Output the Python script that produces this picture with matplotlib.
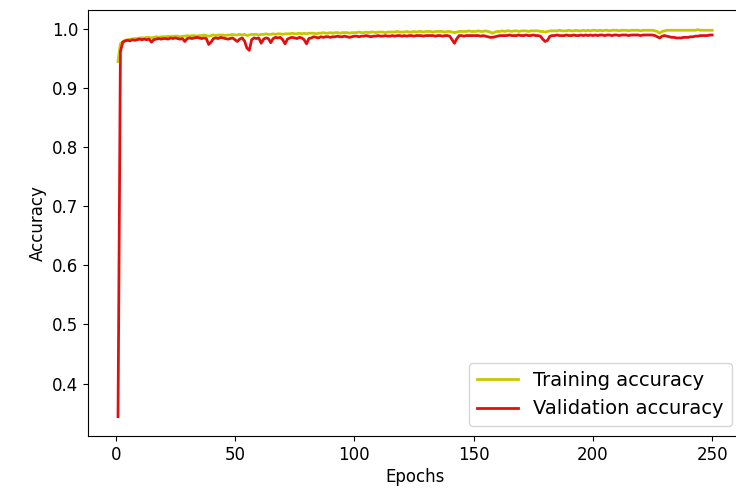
import matplotlib.pyplot as plt
import numpy as np

epochs = np.arange(1, 251)

train_acc = [
    0.945, 0.975, 0.979, 0.981, 0.982, 0.983, 0.983, 0.984, 0.984, 0.985,
    0.985, 0.985, 0.986, 0.986, 0.985, 0.986, 0.987, 0.986, 0.987, 0.987,
    0.987, 0.988, 0.987, 0.988, 0.988, 0.988, 0.987, 0.988, 0.988, 0.989,
    0.988, 0.989, 0.989, 0.988, 0.989, 0.989, 0.990, 0.989, 0.988, 0.989,
    0.990, 0.989, 0.990, 0.990, 0.990, 0.989, 0.990, 0.990, 0.991, 0.990,
    0.990, 0.991, 0.990, 0.991, 0.989, 0.990, 0.991, 0.991, 0.991, 0.990,
    0.991, 0.991, 0.992, 0.991, 0.991, 0.992, 0.991, 0.992, 0.992, 0.991,
    0.992, 0.992, 0.992, 0.993, 0.992, 0.992, 0.993, 0.992, 0.993, 0.992,
    0.993, 0.993, 0.993, 0.992, 0.993, 0.993, 0.994, 0.993, 0.993, 0.994,
    0.993, 0.994, 0.994, 0.993, 0.994, 0.994, 0.994, 0.993, 0.994, 0.994,
    0.994, 0.995, 0.994, 0.994, 0.995, 0.994, 0.995, 0.995, 0.994, 0.995,
    0.995, 0.995, 0.994, 0.995, 0.995, 0.995, 0.995, 0.996, 0.995, 0.995,
    0.995, 0.996, 0.995, 0.995, 0.996, 0.995, 0.996, 0.996, 0.995, 0.996,
    0.996, 0.996, 0.995, 0.996, 0.996, 0.996, 0.996, 0.995, 0.996, 0.996,
    0.995, 0.994, 0.995, 0.996, 0.996, 0.996, 0.996, 0.997, 0.996, 0.996,
    0.996, 0.997, 0.996, 0.996, 0.997, 0.996, 0.995, 0.993, 0.995, 0.996,
    0.996, 0.997, 0.996, 0.997, 0.997, 0.996, 0.997, 0.997, 0.996, 0.997,
    0.997, 0.997, 0.996, 0.997, 0.997, 0.997, 0.997, 0.996, 0.996, 0.995,
    0.996, 0.997, 0.997, 0.997, 0.997, 0.998, 0.997, 0.997, 0.997, 0.998,
    0.997, 0.997, 0.998, 0.997, 0.997, 0.998, 0.997, 0.998, 0.997, 0.998,
    0.998, 0.997, 0.998, 0.997, 0.998, 0.998, 0.997, 0.998, 0.998, 0.998,
    0.997, 0.998, 0.998, 0.998, 0.997, 0.998, 0.998, 0.998, 0.998, 0.997,
    0.998, 0.998, 0.998, 0.998, 0.998, 0.997, 0.996, 0.993, 0.996, 0.997,
    0.998, 0.998, 0.998, 0.998, 0.998, 0.998, 0.998, 0.998, 0.998, 0.998,
    0.998, 0.998, 0.998, 0.999, 0.998, 0.998, 0.998, 0.998, 0.998, 0.998,
]

val_acc = [
    0.344, 0.962, 0.978, 0.980, 0.981, 0.980, 0.982, 0.981, 0.982, 0.983,
    0.982, 0.983, 0.982, 0.983, 0.978, 0.982, 0.983, 0.984, 0.983, 0.984,
    0.984, 0.983, 0.985, 0.984, 0.985, 0.984, 0.983, 0.984, 0.979, 0.984,
    0.985, 0.984, 0.985, 0.986, 0.985, 0.984, 0.985, 0.984, 0.974, 0.978,
    0.984, 0.985, 0.984, 0.986, 0.985, 0.984, 0.983, 0.984, 0.985, 0.982,
    0.979, 0.983, 0.985, 0.980, 0.968, 0.964, 0.982, 0.985, 0.984, 0.985,
    0.976, 0.983, 0.985, 0.984, 0.977, 0.984, 0.986, 0.985, 0.986, 0.982,
    0.975, 0.983, 0.985, 0.986, 0.985, 0.984, 0.986, 0.985, 0.982, 0.975,
    0.984, 0.985, 0.987, 0.986, 0.985, 0.987, 0.986, 0.987, 0.987, 0.986,
    0.987, 0.987, 0.988, 0.987, 0.987, 0.988, 0.987, 0.986, 0.987, 0.988,
    0.988, 0.987, 0.988, 0.988, 0.989, 0.988, 0.987, 0.988, 0.988, 0.989,
    0.988, 0.988, 0.989, 0.988, 0.988, 0.989, 0.988, 0.989, 0.989, 0.988,
    0.989, 0.988, 0.989, 0.989, 0.988, 0.989, 0.989, 0.989, 0.988, 0.989,
    0.989, 0.989, 0.989, 0.988, 0.989, 0.989, 0.988, 0.989, 0.989, 0.988,
    0.982, 0.976, 0.984, 0.989, 0.989, 0.988, 0.989, 0.989, 0.989, 0.989,
    0.989, 0.989, 0.988, 0.989, 0.988, 0.987, 0.986, 0.986, 0.987, 0.988,
    0.989, 0.989, 0.989, 0.989, 0.990, 0.989, 0.989, 0.989, 0.990, 0.989,
    0.989, 0.990, 0.989, 0.989, 0.990, 0.989, 0.989, 0.988, 0.983, 0.979,
    0.981, 0.988, 0.989, 0.989, 0.990, 0.989, 0.989, 0.989, 0.990, 0.989,
    0.989, 0.990, 0.989, 0.989, 0.990, 0.989, 0.990, 0.989, 0.990, 0.989,
    0.990, 0.989, 0.990, 0.990, 0.989, 0.990, 0.990, 0.989, 0.990, 0.990,
    0.989, 0.990, 0.990, 0.990, 0.989, 0.990, 0.990, 0.990, 0.990, 0.989,
    0.990, 0.990, 0.990, 0.990, 0.990, 0.989, 0.987, 0.985, 0.988, 0.989,
    0.988, 0.987, 0.986, 0.986, 0.985, 0.985, 0.985, 0.986, 0.986, 0.986,
    0.987, 0.987, 0.988, 0.988, 0.989, 0.989, 0.989, 0.989, 0.990, 0.990,
]

plt.rcParams['font.size'] = 12

fig = plt.figure(figsize=(7.36, 4.99), dpi=100)
# the source image is cropped on the right, so the axes run past the edge
ax = fig.add_axes([0.12, 0.1263, 0.888, 0.853])

ax.plot(epochs, train_acc, color='#c8c800', lw=2, label='Training accuracy')
ax.plot(epochs, val_acc, color='#e01010', lw=2, label='Validation accuracy')

ax.set_xlabel('Epochs', fontsize=12, labelpad=3)
ax.set_ylabel('Accuracy', fontsize=12)
ax.legend(loc='lower right', fontsize=14, borderaxespad=0, handlelength=2.1,
          bbox_to_anchor=(0.994, 0.146), bbox_transform=fig.transFigure)

fig.savefig('out.png', dpi=100)
